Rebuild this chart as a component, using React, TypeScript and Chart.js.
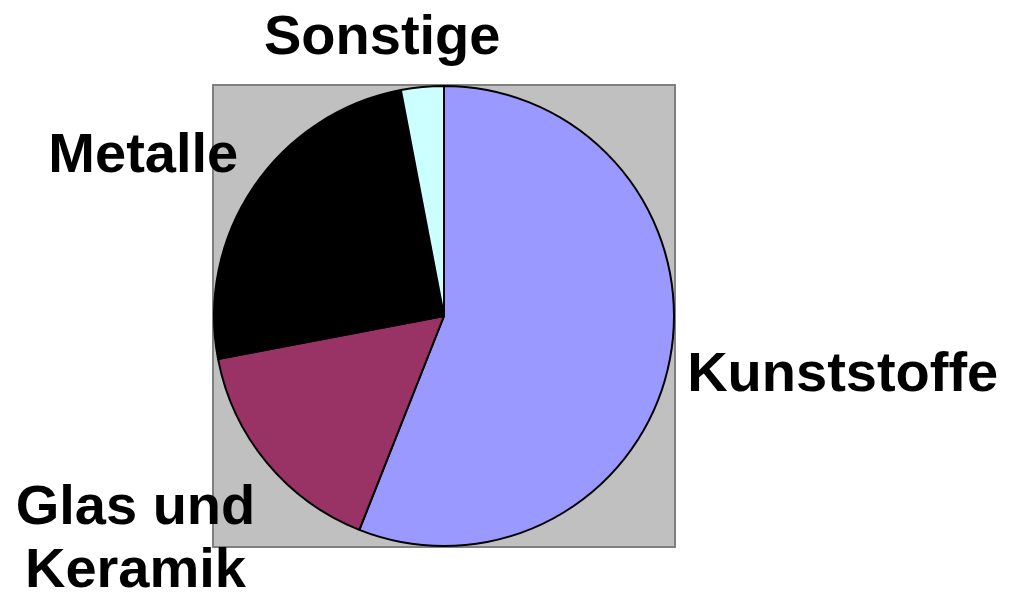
import React, { useEffect, useRef } from "react";
import { Chart, registerables } from "chart.js";

Chart.register(...registerables);

const categories: string[][] = [["Kunststoffe"], ["Glas und", "Keramik"], ["Metalle"], ["Sonstige"]];
const values: number[] = [56, 16, 25, 3];
const colors: string[] = ["#9999FF", "#993366", "#000000", "#CCFFFF"];

// label layout tweaks (px), relative to the automatic outside-end placement
const labelOffsets: number[][] = [[20, 6], [-39, 33], [-32, -17], [-29, -22]];
const FONT_SIZE = 56;
const LINE_HEIGHT = 63;

const plotBackground = {
  id: "plotBackground",
  beforeDraw(chart: any) {
    const { ctx, chartArea } = chart;
    ctx.save();
    ctx.fillStyle = "#C0C0C0";
    ctx.fillRect(chartArea.left, chartArea.top, chartArea.right - chartArea.left, chartArea.bottom - chartArea.top);
    ctx.strokeStyle = "#808080";
    ctx.lineWidth = 2;
    ctx.strokeRect(chartArea.left, chartArea.top, chartArea.right - chartArea.left, chartArea.bottom - chartArea.top);
    ctx.restore();
  },
};

const outsideLabels = {
  id: "outsideLabels",
  afterDraw(chart: any) {
    const { ctx } = chart;
    const meta = chart.getDatasetMeta(0);
    ctx.save();
    ctx.font = `bold ${FONT_SIZE}px "Liberation Sans", Arial, sans-serif`;
    ctx.fillStyle = "#000000";
    ctx.textAlign = "center";
    ctx.textBaseline = "alphabetic";
    meta.data.forEach((arc: any, i: number) => {
      const p = arc.getProps(["x", "y", "startAngle", "endAngle", "outerRadius"], true);
      const mid = (p.startAngle + p.endAngle) / 2;
      const dx = Math.cos(mid);
      const dy = Math.sin(mid);
      const lines = categories[i];
      const w = Math.max(...lines.map((l) => ctx.measureText(l).width));
      const h = lines.length * LINE_HEIGHT;
      const ax = p.x + p.outerRadius * dx;
      const ay = p.y + p.outerRadius * dy;
      const cx = ax + (dx * w) / 2 + labelOffsets[i][0];
      const cy = ay + (dy * h) / 2 + labelOffsets[i][1];
      const capH = 0.716 * FONT_SIZE;
      lines.forEach((line, j) => {
        const by = cy - h / 2 + LINE_HEIGHT * (j + 0.5) + capH / 2;
        ctx.fillText(line, cx, by);
      });
    });
    ctx.restore();
  },
};

export default function App() {
  const ref = useRef<HTMLCanvasElement | null>(null);
  useEffect(() => {
    if (!ref.current) return;
    const chart = new Chart(ref.current, {
      type: "pie",
      data: {
        labels: categories.map((c) => c.join(" ")),
        datasets: [
          {
            data: values,
            backgroundColor: colors,
            borderColor: "#000000",
            borderWidth: 2,
          },
        ],
      },
      options: {
        animation: false,
        responsive: false,
        layout: { padding: { left: 213, top: 85, right: 343, bottom: 45 } },
        plugins: { legend: { display: false }, tooltip: { enabled: false } },
      },
      plugins: [plotBackground, outsideLabels],
    });
    return () => chart.destroy();
  }, []);
  return (
    <div style={{ position: "fixed", left: 0, top: 0, width: 1018, height: 592, background: "#fff" }}>
      <canvas ref={ref} width={1018} height={592} />
    </div>
  );
}
